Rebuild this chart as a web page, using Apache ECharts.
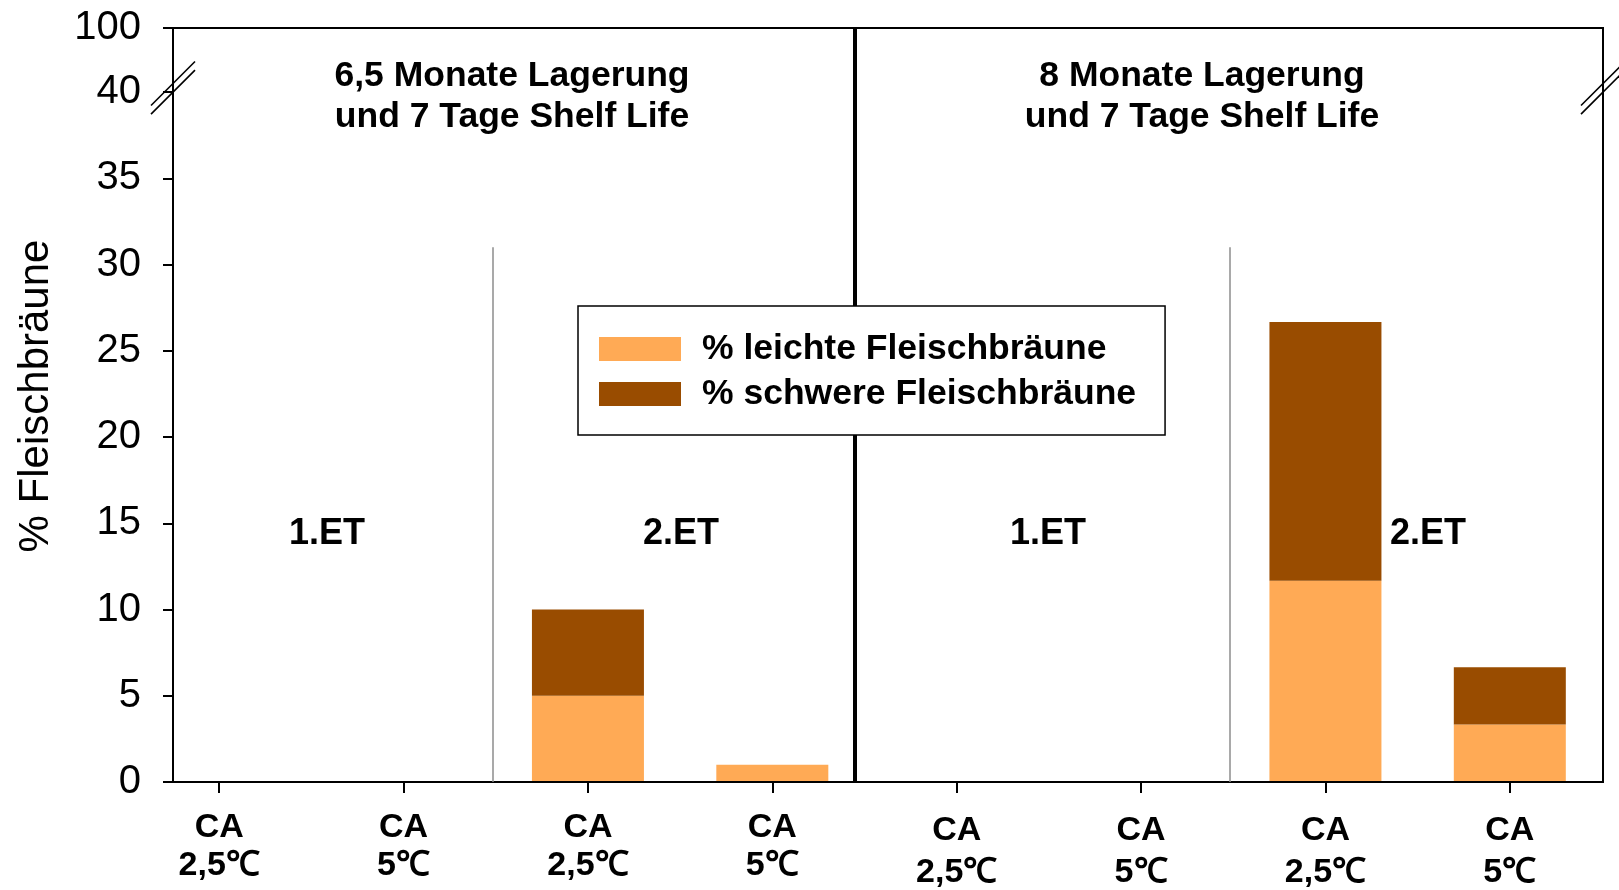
<!DOCTYPE html>
<html>
<head>
<meta charset="utf-8">
<script src="https://cdn.jsdelivr.net/npm/echarts@6/dist/echarts.min.js"></script>
<style>
  html, body { margin: 0; padding: 0; background: #ffffff; }
  #chart { width: 1619px; height: 890px; }
</style>
</head>
<body>
<div id="chart"></div>
<script>
// ---- data ----
const categories = ['CA 2,5℃', 'CA 5℃', 'CA 2,5℃', 'CA 5℃', 'CA 2,5℃', 'CA 5℃', 'CA 2,5℃', 'CA 5℃'];
const seriesNames = ['% leichte Fleischbräune', '% schwere Fleischbräune'];
const lightBrowning = [0, 0, 5, 1, 0, 0, 11.67, 3.33];
const heavyBrowning = [0, 0, 5, 0, 0, 0, 15, 3.33];
const yTickValues = [0, 5, 10, 15, 20, 25, 30, 35, 40];
const breakTickLabel = '100';
const panelTitles = ['6,5 Monate Lagerung\nund 7 Tage Shelf Life', '8 Monate Lagerung\nund 7 Tage Shelf Life'];
const phaseLabels = ['1.ET', '2.ET', '1.ET', '2.ET'];
const axisTitle = '% Fleischbräune';

// ---- layout / style ----
const LIGHT = '#FFAA55';
const DARK = '#994C00';
const SANS = '"Liberation Sans", Arial, sans-serif';
const AXIS_TOP = 43.72;          // the segment above 40 stands for the broken range up to 100
const PLOT_LEFT = 173, PLOT_RIGHT = 1603, PLOT_TOP = 28, PLOT_BOTTOM = 782;

const chart = echarts.init(document.getElementById('chart'), null, { renderer: 'canvas' });

const option = {
  animation: false,
  backgroundColor: '#ffffff',
  grid: [
    { left: 127, right: 17, top: PLOT_TOP, bottom: 890 - PLOT_BOTTOM, outerBoundsMode: 'none' },
    { left: PLOT_LEFT, right: 1619 - PLOT_RIGHT, top: PLOT_TOP, bottom: 890 - PLOT_BOTTOM,
      show: true, borderColor: '#000', borderWidth: 2, backgroundColor: 'transparent', z: 3,
      outerBoundsMode: 'none' }
  ],
  xAxis: [
    {
      type: 'category', gridIndex: 0, data: categories, boundaryGap: true,
      axisLine: { show: false },
      axisTick: { show: true, alignWithLabel: true, length: 11, lineStyle: { color: '#000', width: 2 } },
      axisLabel: {
        interval: 0, margin: 27,
        formatter: (v, i) => {
          const parts = v.split(' ');
          return i < 4 ? `{a|${parts[0]}}\n{a|${parts[1]}}` : `{r1|${parts[0]}}\n{r2|${parts[1]}}`;
        },
        rich: {
          a: { fontFamily: SANS, fontWeight: 'bold', fontSize: 34, lineHeight: 38, color: '#000' },
          r1: { fontFamily: SANS, fontWeight: 'bold', fontSize: 34, lineHeight: 44, color: '#000' },
          r2: { fontFamily: SANS, fontWeight: 'bold', fontSize: 34, lineHeight: 39, color: '#000' }
        }
      }
    },
    { type: 'value', gridIndex: 0, min: 0, max: 8, show: false },
    { type: 'value', gridIndex: 1, min: 0, max: 1, show: false }
  ],
  yAxis: [
    {
      type: 'value', gridIndex: 0, min: 0, max: AXIS_TOP, interval: 5, offset: -(PLOT_LEFT - 127),
      name: axisTitle, nameLocation: 'middle', nameRotate: 90, nameGap: 116,
      nameTextStyle: { fontFamily: SANS, fontSize: 42, color: '#000', padding: [0, 0, 0, 18] },
      axisLine: { show: true, lineStyle: { color: '#000', width: 2 } },
      axisTick: { show: true, length: 10, lineStyle: { color: '#000', width: 2 } },
      splitLine: { show: false },
      axisLabel: {
        margin: 32, fontFamily: SANS, fontSize: 40, color: '#000',
        formatter: v => (yTickValues.indexOf(v) >= 0 ? String(v) : breakTickLabel)
      }
    },
    { type: 'value', gridIndex: 1, min: 0, max: 1, show: false }
  ],
  legend: {
    data: seriesNames, z: 50,
    orient: 'vertical', left: 578, top: 306,
    icon: 'rect', itemWidth: 82, itemHeight: 24, itemGap: 9,
    padding: [25, 29, 23, 21],
    backgroundColor: '#ffffff', borderColor: '#000', borderWidth: 1.5,
    selectedMode: false,
    textStyle: { fontFamily: SANS, fontWeight: 'bold', fontSize: 35.5, lineHeight: 24, color: '#000', padding: [0, 0, 0, 16] }
  },
  series: [
    {
      name: seriesNames[0], type: 'bar', stack: 'total', xAxisIndex: 0, yAxisIndex: 0,
      data: lightBrowning, barWidth: 112, itemStyle: { color: LIGHT }, z: 2
    },
    {
      name: seriesNames[1], type: 'bar', stack: 'total', xAxisIndex: 0, yAxisIndex: 0,
      data: heavyBrowning, barWidth: 112, itemStyle: { color: DARK }, z: 2
    },
    {
      // separators between the storage periods and the two examination dates
      type: 'line', xAxisIndex: 1, yAxisIndex: 0, data: [], silent: true, z: 1,
      markLine: {
        symbol: 'none', silent: true, label: { show: false }, animation: false,
        data: [
          [{ coord: [1.985, 0], lineStyle: { color: '#8c8c8c', width: 1.5, type: 'solid' } }, { coord: [1.985, 31] }],
          [{ coord: [5.98, 0], lineStyle: { color: '#8c8c8c', width: 1.5, type: 'solid' } }, { coord: [5.98, 31] }],
          [{ coord: [3.945, 0], lineStyle: { color: '#000', width: 4, type: 'solid' } }, { coord: [3.945, AXIS_TOP] }]
        ]
      }
    }
  ],
  graphic: []
};

chart.setOption(option);

// annotations: panel headings, examination-date labels, axis break marks
const titleStyle = { fontFamily: SANS, fontWeight: 'bold', fontSize: 35.5, lineHeight: 41, fill: '#000', align: 'center', verticalAlign: 'middle' };
const etStyle = { fontFamily: SANS, fontWeight: 'bold', fontSize: 36, fill: '#000', align: 'center', verticalAlign: 'middle' };
const etX = [327, 681, 1048, 1428];
const yEt = chart.convertToPixel({ yAxisIndex: 0 }, 14.35);
const yB1 = chart.convertToPixel({ yAxisIndex: 0 }, 40.5);
const yB2 = chart.convertToPixel({ yAxisIndex: 0 }, 40.0);

const g = [
  { type: 'text', x: 512, y: 97, style: Object.assign({ text: panelTitles[0] }, titleStyle), z: 10 },
  { type: 'text', x: 1202, y: 97, style: Object.assign({ text: panelTitles[1] }, titleStyle), z: 10 }
];
phaseLabels.forEach((t, i) => {
  g.push({ type: 'text', x: etX[i], y: yEt, style: Object.assign({ text: t }, etStyle), z: 10 });
});
[PLOT_LEFT, PLOT_RIGHT].forEach(px => {
  [yB1, yB2].forEach(py => {
    g.push({ type: 'line', shape: { x1: px - 22, y1: py + 22, x2: px + 22, y2: py - 22 },
      style: { stroke: '#000', lineWidth: 1.6 }, z: 10 });
  });
});
chart.setOption({ graphic: g });
</script>
</body>
</html>
